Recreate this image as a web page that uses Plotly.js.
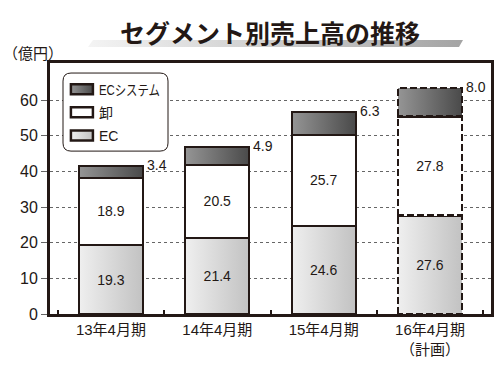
<!DOCTYPE html>
<html>
<head>
<meta charset="utf-8">
<script src="https://cdn.plot.ly/plotly-3.0.1.min.js"></script>
<style>
html,body{margin:0;padding:0;background:#fff;}
#chart{width:500px;height:375px;}
</style>
</head>
<body>
<div id="chart"></div>
<script>
// ---- data ----
const categories = ['13年4月期', '14年4月期', '15年4月期', '16年4月期<br>（計画）'];
const seriesNames = ['EC', '卸', 'ECシステム'];
const ecValues = [19.3, 21.4, 24.6, 27.6];
const oroshiValues = [18.9, 20.5, 25.7, 27.8];
const ecSystemValues = [3.4, 4.9, 6.3, 8.0];
const yTickValues = [0, 10, 20, 30, 40, 50, 60];
const titleText = 'セグメント別売上高の推移';
const unitText = '（億円）';

// ---- style ----
const INK = '#231815';
const FONT = "'Liberation Sans', 'Noto Sans CJK JP', sans-serif";
const C_EC = '#d8d8d8', C_OR = '#ffffff', C_SYS = '#6e6e6e';

function barTrace(name, vals, color, showText, rank) {
  return {
    type: 'bar', name: name, x: categories, y: vals,
    width: 0.6,
    marker: {color: color, line: {color: INK, width: 2}},
    text: showText ? vals.map(v => v.toFixed(1)) : undefined,
    textposition: showText ? 'inside' : 'none',
    insidetextanchor: 'middle',
    textangle: 0,
    textfont: {family: FONT, size: 14, color: INK},
    legendgroup: name,
    legendrank: rank,
    hoverinfo: 'skip'
  };
}

const traces = [
  barTrace(seriesNames[0], ecValues, C_EC, true, 3),
  barTrace(seriesNames[1], oroshiValues, C_OR, true, 2),
  barTrace(seriesNames[2], ecSystemValues, C_SYS, false, 1)
];

const totals = categories.map((c, i) => ecValues[i] + oroshiValues[i] + ecSystemValues[i]);
const annotations = categories.map((c, i) => ({
  x: c, y: totals[i], xref: 'x', yref: 'y',
  text: ecSystemValues[i].toFixed(1), showarrow: false,
  xanchor: 'left', yanchor: 'middle', xshift: 34, yshift: 1,
  font: {family: FONT, size: 14, color: INK}
}));
annotations.push({
  xref: 'paper', yref: 'paper', x: -0.111, y: 1.04,
  text: unitText, showarrow: false, xanchor: 'left', yanchor: 'middle',
  font: {family: "'Noto Sans CJK JP', sans-serif", size: 15, color: INK}
});

const layout = {
  width: 500, height: 375,
  margin: {l: 50, r: 9, t: 63, b: 61, pad: 0},
  paper_bgcolor: '#fff', plot_bgcolor: '#fff',
  barmode: 'stack',
  showlegend: true,
  title: {
    text: '<b>' + titleText + '</b>',
    x: 0.54, xref: 'container', xanchor: 'center',
    y: 0.91, yref: 'container', yanchor: 'middle',
    font: {family: "'Noto Sans CJK JP', sans-serif", size: 25, color: INK}
  },
  xaxis: {
    type: 'category', range: [-0.573, 3.573],
    showline: true, mirror: true, linecolor: INK, linewidth: 3,
    ticks: 'inside', tickson: 'boundaries', ticklen: 4, tickwidth: 2, tickcolor: INK,
    showgrid: false, zeroline: false,
    tickfont: {family: FONT, size: 15, color: INK},
    fixedrange: true
  },
  yaxis: {
    range: [0, 70.4],
    tickvals: yTickValues,
    showline: true, mirror: true, linecolor: INK, linewidth: 3,
    ticks: 'outside', ticklen: 6, tickwidth: 1, tickcolor: '#666',
    showgrid: true, gridcolor: '#666', gridwidth: 1, griddash: '3px,3px',
    zeroline: false,
    tickfont: {family: FONT, size: 16, color: INK},
    fixedrange: true
  },
  legend: {
    x: 0.027, y: 0.958, xanchor: 'left', yanchor: 'top',
    traceorder: 'grouped', tracegroupgap: 2,
    bgcolor: 'rgba(0,0,0,0)', borderwidth: 0,
    font: {family: FONT, size: 14, color: INK}
  },
  shapes: [
    {
      type: 'path', xref: 'paper', yref: 'paper', layer: 'above',
      path: 'M0.0476,0.649 L0.2495,0.649 Q0.2676,0.649 0.2676,0.681 L0.2676,0.928 Q0.2676,0.960 0.2495,0.960 L0.0476,0.960 Q0.0295,0.960 0.0295,0.928 L0.0295,0.681 Q0.0295,0.649 0.0476,0.649 Z',
      fillcolor: '#fff', line: {color: INK, width: 1}
    },
    {
      type: 'path', xref: 'paper', yref: 'paper', layer: 'above',
      path: 'M0.0862,1.0637 L0.0975,1.0916 L0.9365,1.0916 L0.9274,1.0637 Z',
      fillcolor: '#bbbbbb', line: {width: 0}
    }
  ],
  annotations: annotations
};

Plotly.newPlot('chart', traces, layout, {staticPlot: true, displayModeBar: false}).then(function (gd) {
  const svg = gd.querySelector('svg.main-svg');
  const NS = 'http://www.w3.org/2000/svg';
  let defs = svg.querySelector('defs');
  if (!defs) { defs = document.createElementNS(NS, 'defs'); svg.insertBefore(defs, svg.firstChild); }
  function grad(id, c1, c2) {
    const g = document.createElementNS(NS, 'linearGradient');
    g.setAttribute('id', id);
    g.setAttribute('x1', '0'); g.setAttribute('y1', '0');
    g.setAttribute('x2', '1'); g.setAttribute('y2', '0');
    [[0, c1], [1, c2]].forEach(([o, c]) => {
      const s = document.createElementNS(NS, 'stop');
      s.setAttribute('offset', o); s.setAttribute('stop-color', c);
      g.appendChild(s);
    });
    defs.appendChild(g);
  }
  grad('gEC', '#efefef', '#c2c2c2');
  grad('gSYS', '#959595', '#4a4a4a');
  grad('gTitle', '#f4f4f4', '#a4a4a4');

  const map = {'rgb(216, 216, 216)': 'url(#gEC)', 'rgb(110, 110, 110)': 'url(#gSYS)'};
  gd.querySelectorAll('.barlayer .point path, .legend .legendpoints path').forEach(p => {
    const f = p.style.fill;
    if (map[f]) p.style.fill = map[f];
  });
  gd.querySelectorAll('.legend .legendpoints path').forEach(p => {
    p.setAttribute('d', 'M11,5H-11V-5H11Z');
    p.style.strokeWidth = '2.5px';
  });
  // narrow the long legend label so it sits inside the rounded box, like the reference
  gd.querySelectorAll('.legend text.legendtext').forEach(t => {
    const x = parseFloat(t.getAttribute('x') || '40');
    t.setAttribute('x', x - 3);
    if (t.getComputedTextLength() > 62) {
      t.setAttribute('textLength', '61');
      t.setAttribute('lengthAdjust', 'spacingAndGlyphs');
    }
  });
  gd.querySelectorAll('.barlayer .trace').forEach(t => {
    const pts = t.querySelectorAll('.point');
    if (pts[3]) {
      const p = pts[3].querySelector('path');
      p.style.strokeDasharray = '7px,3px';
      p.style.strokeWidth = '2.5px';
    }
  });
  const under = gd.querySelector('.shapelayer path[data-index="1"]');
  if (under) under.style.fill = 'url(#gTitle)';
});
</script>
</body>
</html>
